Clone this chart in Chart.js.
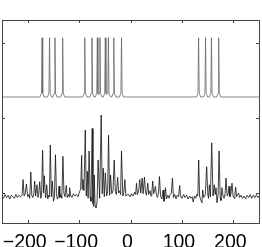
<!DOCTYPE html>
<html>
<head>
<meta charset="utf-8">
<script src="https://cdn.jsdelivr.net/npm/chart.js@4.4.1/dist/chart.umd.min.js"></script>
<style>
  html, body { margin: 0; padding: 0; background: #fff; }
  canvas { display: block; }
</style>
</head>
<body>
<canvas id="myChart" width="262" height="247"></canvas>
<script>
// tick positions (labels only on x)
var xTicks = [-200, -100, 0, 100, 200];
var yTicks = [0, 100, 200];

// simulated spectrum (top trace), [shift, intensity]
var simSpectrum = [
    [-250, 128],
    [-176, 128], [-173.2, 133], [-172, 207], [-170.8, 133], [-168, 128],
    [-161.5, 128], [-158.7, 133], [-157.5, 207], [-156.3, 133], [-153.5, 128],
    [-151, 128], [-148.2, 133], [-147, 207], [-145.8, 133], [-143, 128],
    [-136, 128], [-133.2, 133], [-132, 207], [-130.8, 133], [-128, 128],
    [-93, 128], [-90.2, 133], [-89, 207], [-87.8, 133], [-85, 128],
    [-79, 128], [-76.2, 133], [-75, 207], [-73.8, 133], [-71, 128],
    [-68.5, 128], [-65.7, 133], [-64.5, 207], [-63.3, 133], [-62, 131], [-60.7, 133], [-59.5, 207], [-58.3, 133], [-55.5, 128],
    [-53, 128], [-50.2, 133], [-49, 207], [-47.8, 133], [-46, 131], [-44.2, 133], [-43, 207], [-41.8, 133], [-39, 128],
    [-36.5, 128], [-33.7, 133], [-32.5, 207], [-31.3, 133], [-28.5, 128],
    [-21.5, 128], [-18.7, 133], [-17.5, 207], [-16.3, 133], [-13.5, 128],
    [128.5, 128], [131.3, 133], [132.5, 207], [133.7, 133], [136.5, 128],
    [142, 128], [144.8, 133], [146, 207], [147.2, 133], [150, 128],
    [153.5, 128], [156.3, 133], [157.5, 207], [158.7, 133], [161.5, 128],
    [167.5, 128], [170.3, 133], [171.5, 207], [172.7, 133], [175.5, 128],
    [250, 128]
];

// measured spectrum (bottom trace), [shift, intensity]
var expSpectrum = [
    [-250, -4], [-247, -7], [-244, -2], [-241, -6], [-238, -3], [-235, -8], [-232, -3], [-229, -5],
    [-226, -7], [-223, -2], [-220, -6], [-217, -3], [-214, -5], [-211, -3],
    [-209, 18], [-207, -4], [-205, -1], [-202.5, 12], [-200, -5], [-198, -2], [-196, -7], [-194, 28],
    [-192, -3], [-190, -6], [-188, -1], [-186.5, 16], [-184.5, -4], [-182, 11], [-180, -6], [-178.5, -2],
    [-176.7, 15], [-174.5, -7], [-173, -3], [-171, 57], [-169.3, 0], [-167.6, 23], [-165.5, -6], [-164.5, -2],
    [-163, 11], [-161, -8], [-159, -3], [-157.8, -5], [-156, 64], [-154, -5], [-152, 16], [-150, -11],
    [-148, -6], [-146, 51], [-144, -2], [-142, -8], [-140.5, -4], [-139, 9], [-137.5, -6], [-135.5, -2],
    [-133.5, -7], [-131.5, 49], [-129.5, 0], [-127.5, -5], [-125, 10], [-123, -6], [-121, -2], [-119.5, -5],
    [-118.5, 7], [-116.5, -3], [-114, -6], [-111, -1], [-108, -4], [-105, -2], [-102, -5], [-99, 2], [-97, 5],
    [-95, 50], [-94, 5], [-92.6, 18], [-90.5, 3], [-88, 84], [-86, -4], [-84, 29], [-82.5, -7],
    [-80.5, 56], [-78.5, -5], [-77, -11], [-74.5, 86], [-73, -14], [-71.5, -18], [-70.5, 24], [-69, -16],
    [-67, -20], [-65, -12], [-63, 44], [-60, -7], [-57, 104], [-55, -1], [-53, 33], [-51, -5],
    [-49, 27], [-46.5, -4], [-44.5, 2], [-42.7, 77], [-40.7, -3], [-38.8, 24], [-36.5, -1], [-34, 3],
    [-31.7, 44], [-29.5, 2], [-27.5, -2], [-25, 21], [-23, 0], [-21, 3], [-19.3, -2], [-17.5, 56],
    [-15, -4], [-13, 1], [-11, 18], [-9, -4], [-6, -2], [-3.3, -2], [-1, -5],
    [2, -1], [5, -4], [8, 1], [10, -2], [11.7, 13], [13.5, -2], [16, 3], [18, 18], [20, 0], [22.7, 20],
    [24.5, -1], [27.2, 21], [29, 2], [31, -3], [33.6, 13], [35.5, -2], [38, 3], [40, -4], [41.5, 1],
    [43.3, 16], [45, -1], [47, 4], [48.5, 9], [50.5, -3], [52.5, -6], [54.5, 0], [56.3, 22], [58.5, -4],
    [61, -8], [63.5, 4], [65, -11], [66.5, -6], [68, 7], [70, -8], [72.5, -3], [75, -7], [77, -2],
    [79.5, 0], [81.6, 20], [83.5, -6], [86, -2], [88.5, -8], [91, -3], [93.5, -5], [95.7, 10], [97.5, -4],
    [100, -7], [103.5, -2], [106, -6], [109, -3], [112, -8], [115, -4], [118, -7], [120, -5], [122, -12],
    [124.5, -4], [127, -7], [129, -2], [131, -4],
    [132.6, 44], [134.5, -4], [136.5, -9], [139, -13], [140.4, 4], [142.5, -6], [145.5, -2], [148.2, 35],
    [150.5, -3], [151.8, -7], [153.4, 11], [155.5, -5], [158, 67], [160.5, -4], [163, 11], [164.7, -2],
    [166.4, 7], [168.3, -13], [170.5, -2], [172.3, 56], [174.5, -6], [176, -10], [178, 7], [180, -4],
    [182, -7], [184, -1], [185.9, 20], [188, -4], [189.8, -2], [191.7, 9], [193.5, -5], [195.5, -1],
    [197.5, 13], [199.5, -4], [201.5, -7], [203, -2], [204.5, 8], [206.5, -5], [208.5, -2], [210.3, 0],
    [212.5, -6], [215, -3], [218, -7], [221, -4], [224, -8], [227, -3], [230, -6], [233, -2], [236, -7],
    [239, -3], [242, -6], [245, -2], [248, -6], [250, -4]
];

function toPoints(arr) {
    return arr.map(p => ({ x: p[0], y: p[1] }));
}

// box with inward ticks on all four sides
var framePlugin = {
    id: 'frame',
    afterDraw(chart) {
        var c = chart.ctx, a = chart.chartArea;
        var xs = chart.scales.x, ys = chart.scales.y;
        c.save();
        c.strokeStyle = '#444';
        c.lineWidth = 1;
        c.strokeRect(a.left + 0.5, a.top + 0.5, a.right - a.left, a.bottom - a.top);
        c.beginPath();
        xTicks.forEach(v => {
            var px = Math.round(xs.getPixelForValue(v)) + 0.5;
            c.moveTo(px, a.bottom); c.lineTo(px, a.bottom - 3);
            c.moveTo(px, a.top); c.lineTo(px, a.top + 3);
        });
        yTicks.forEach(v => {
            var py = Math.round(ys.getPixelForValue(v)) + 0.5;
            c.moveTo(a.left, py); c.lineTo(a.left + 3, py);
            c.moveTo(a.right, py); c.lineTo(a.right - 3, py);
        });
        c.stroke();
        c.restore();
    }
};

var ctx = document.getElementById('myChart').getContext('2d');
var myChart = new Chart(ctx, {
    type: 'line',
    data: {
        datasets: [
            {
                label: 'Simulated',
                data: toPoints(simSpectrum),
                borderColor: '#666',
                borderWidth: 0.8
            },
            {
                label: 'Measured',
                data: toPoints(expSpectrum),
                borderColor: '#111',
                borderWidth: 0.8
            }
        ]
    },
    options: {
        responsive: false,
        animation: false,
        devicePixelRatio: 1,
        elements: {
            point: { radius: 0 },
            line: { tension: 0 }
        },
        plugins: {
            legend: { display: false },
            tooltip: { enabled: false }
        },
        layout: {
            padding: { left: 2, right: 3, top: 20, bottom: 0 }
        },
        scales: {
            x: {
                type: 'linear',
                min: -250,
                max: 250,
                grid: { display: false },
                border: { display: false },
                afterBuildTicks: s => { s.ticks = xTicks.map(v => ({ value: v })); },
                afterFit: s => { s.height = 24; },
                ticks: {
                    autoSkip: false,
                    maxRotation: 0,
                    padding: 0,
                    labelOffset: -3,
                    color: '#000',
                    font: { family: '"Liberation Sans", Arial, sans-serif', size: 19.5 },
                    callback: v => v < 0 ? '\u2212' + (-v) : String(v)
                }
            },
            y: {
                type: 'linear',
                min: -40,
                max: 230.7,
                grid: { display: false },
                border: { display: false },
                afterBuildTicks: s => { s.ticks = yTicks.map(v => ({ value: v })); },
                afterFit: s => { s.width = 0; },
                ticks: { display: false }
            }
        }
    },
    plugins: [framePlugin]
});
</script>
</body>
</html>
